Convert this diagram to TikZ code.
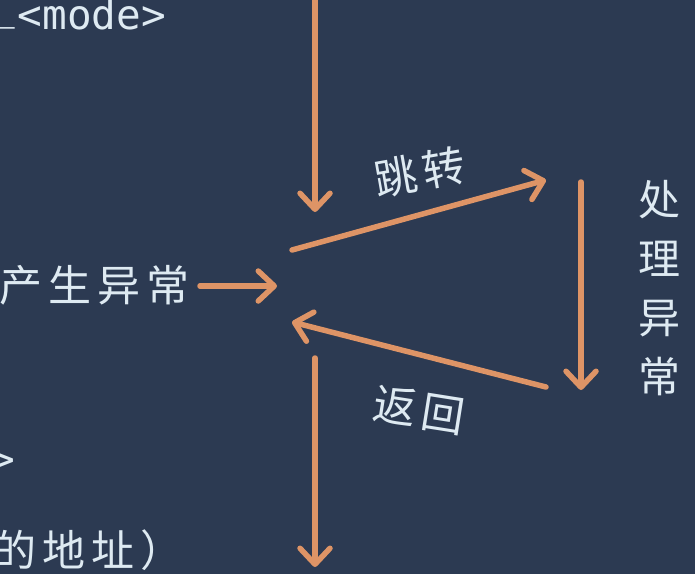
\documentclass[tikz,border=0pt]{standalone}
\usepackage{fontspec}
\newfontfamily\cjk[LetterSpace=14]{Noto Sans CJK SC}
\setmonofont{DejaVu Sans Mono}
\usetikzlibrary{arrows.meta}
\definecolor{bg}{RGB}{44,58,82}
\definecolor{arr}{RGB}{222,148,102}
\definecolor{txt}{RGB}{222,234,242}
\tikzset{
  flow/.style={draw=arr, line width=5.5pt, line cap=round,
    -{Straight Barb[length=16pt,width=30pt,line width=5.5pt,round]}},
  label/.style={text=txt, font=\cjk\fontsize{43}{46}\selectfont, inner sep=0pt},
  code/.style={text=txt, font=\ttfamily\fontsize{41}{44}\selectfont, inner sep=0pt}
}
\begin{document}
\begin{tikzpicture}[x=1pt,y=-1pt]
\fill[bg] (0,0) rectangle (695,574);
\useasboundingbox (0,0) rectangle (695,574);
% texts on the left
\node[code, anchor=east] (mode) at (166,14) {<mode>};
\node[code, anchor=west] (us) at (-10,24) {\_};
\node[label, anchor=west] (gen) at (-1,285) {产生异常};
\node[code, anchor=west] (gt) at (-10,462) {>};
\node[label, anchor=west] (addr) at (-7,550) {的地址）};
% hub coordinates
\coordinate (topin) at (315,-5);
\coordinate (topend) at (315,212);
\coordinate (jumpS) at (292,250);
\coordinate (jumpE) at (546,180);
\coordinate (genS) at (200,286);
\coordinate (genE) at (277,286);
\coordinate (hdlS) at (581,182);
\coordinate (hdlE) at (581,390);
\coordinate (retS) at (546,387);
\coordinate (retE) at (292,322);
\coordinate (botS) at (315,358);
\coordinate (botE) at (315,567);
% labels
\node[label, rotate=10] (jump) at (420,172) {跳转};
\node[label, rotate=-9] (ret) at (419,410) {返回};
\node[label, align=center, text width=44pt, font=\cjk\fontsize{42}{59}\selectfont] (hdl) at (659,288) {处\\理\\异\\常};
% arrows
\draw[flow] (genS) -- (genE);
\draw[flow] (topin) -- (topend);
\draw[flow] (jumpS) -- (jumpE);
\draw[flow] (hdlS) -- (hdlE);
\draw[flow] (retS) -- (retE);
\draw[flow] (botS) -- (botE);
\end{tikzpicture}
\end{document}
